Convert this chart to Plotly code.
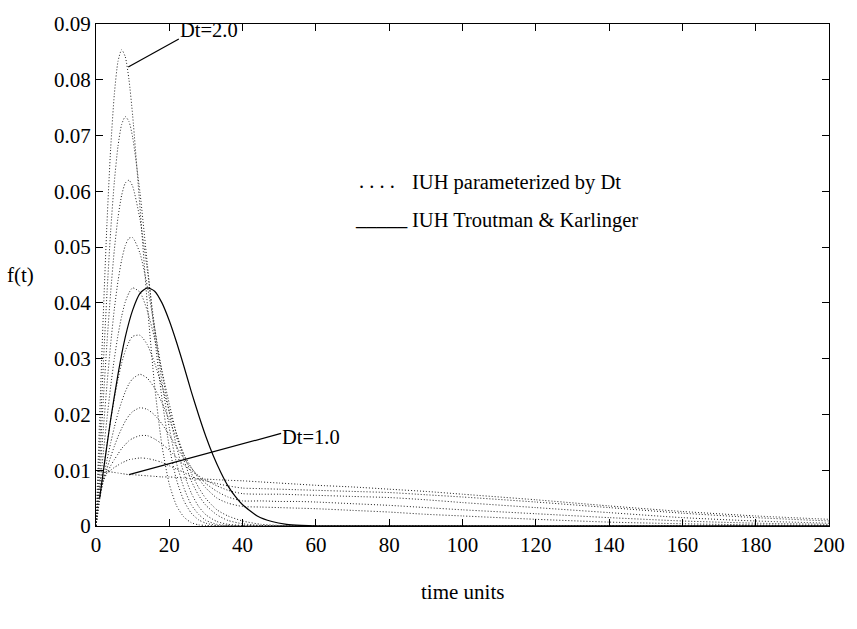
import plotly.graph_objects as go

# time grid for the Dt-parameterized IUH family
t_grid = [0, 1, 2, 3, 4, 5, 6, 7, 8, 9, 10, 12, 14, 16, 18, 20, 22, 24, 26, 28, 30,
          33, 36, 40, 45, 50, 55, 60, 70, 80, 90, 100, 120, 140, 160, 180, 200]

iuh_dt20 = [0, 0.0196, 0.0381, 0.0544, 0.0677, 0.0774, 0.0833, 0.0854, 0.0841, 0.0800, 0.0736,
            0.0571, 0.0398, 0.0251, 0.0144, 0.0075, 0.0036, 0.0016, 0.0006, 0.0002, 0.0001,
            0, 0, 0, 0, 0, 0, 0, 0, 0, 0, 0, 0, 0, 0, 0, 0]
iuh_dt19 = [0, 0.0148, 0.0290, 0.0418, 0.0529, 0.0617, 0.0681, 0.0720, 0.0734, 0.0725, 0.0697,
            0.0598, 0.0470, 0.0340, 0.0228, 0.0142, 0.0082, 0.0045, 0.0023, 0.0011, 0.0005,
            0.0001, 0, 0, 0, 0, 0, 0, 0, 0, 0, 0, 0, 0, 0, 0, 0]
iuh_dt18 = [0, 0.0116, 0.0227, 0.0329, 0.0419, 0.0495, 0.0553, 0.0593, 0.0615, 0.0620, 0.0609,
            0.0550, 0.0459, 0.0356, 0.0258, 0.0176, 0.0112, 0.0068, 0.0038, 0.0021, 0.0010,
            0.0003, 0.0001, 0, 0, 0, 0, 0, 0, 0, 0, 0, 0, 0, 0, 0, 0]
iuh_dt17 = [0, 0.0089, 0.0174, 0.0254, 0.0326, 0.0389, 0.0439, 0.0477, 0.0503, 0.0516, 0.0517,
            0.0489, 0.0430, 0.0355, 0.0276, 0.0203, 0.0142, 0.0094, 0.0059, 0.0035, 0.0020,
            0.0008, 0.0003, 0.0001, 0, 0, 0, 0, 0, 0, 0, 0, 0, 0, 0, 0, 0]
iuh_dt16 = [0, 0.0067, 0.0132, 0.0193, 0.0250, 0.0300, 0.0342, 0.0376, 0.0402, 0.0418, 0.0427,
            0.0419, 0.0386, 0.0336, 0.0278, 0.0219, 0.0164, 0.0118, 0.0081, 0.0055, 0.0037,
            0.0020, 0.0010, 0.0004, 0.0001, 0, 0, 0, 0, 0, 0, 0, 0, 0, 0, 0, 0]
iuh_dt15 = [0, 0.0050, 0.0100, 0.0147, 0.0190, 0.0229, 0.0263, 0.0292, 0.0314, 0.0330, 0.0340,
            0.0342, 0.0325, 0.0292, 0.0251, 0.0207, 0.0165, 0.0127, 0.0095, 0.0069, 0.0049,
            0.0029, 0.0018, 0.0009, 0.0003, 0.0001, 0, 0, 0, 0, 0, 0, 0, 0, 0, 0, 0]
iuh_dt14 = [0, 0.0047, 0.0084, 0.0118, 0.0149, 0.0177, 0.0202, 0.0223, 0.0241, 0.0255, 0.0264,
            0.0272, 0.0265, 0.0247, 0.0221, 0.0190, 0.0158, 0.0128, 0.0105, 0.0085, 0.0068,
            0.0050, 0.0041, 0.0035, 0.0034, 0.0033, 0.0032, 0.0031, 0.0028, 0.0025, 0.0021, 0.0018,
            0.0012, 0.0007, 0.0004, 0.0002, 0.0001]
iuh_dt13 = [0, 0.0052, 0.0080, 0.0103, 0.0124, 0.0143, 0.0160, 0.0175, 0.0188, 0.0198, 0.0205,
            0.0212, 0.0209, 0.0199, 0.0183, 0.0163, 0.0142, 0.0121, 0.0104, 0.0089, 0.0076,
            0.0062, 0.0052, 0.0045, 0.0045, 0.0044, 0.0044, 0.0043, 0.0040, 0.0037, 0.0033, 0.0029,
            0.0022, 0.0015, 0.0009, 0.0005, 0.0003]
iuh_dt12 = [0, 0.0058, 0.0081, 0.0095, 0.0108, 0.0119, 0.0129, 0.0139, 0.0146, 0.0153, 0.0157,
            0.0162, 0.0162, 0.0156, 0.0147, 0.0136, 0.0123, 0.0110, 0.0099, 0.0090, 0.0082,
            0.0072, 0.0064, 0.0058, 0.0057, 0.0057, 0.0056, 0.0055, 0.0053, 0.0051, 0.0047, 0.0042,
            0.0033, 0.0024, 0.0015, 0.0009, 0.0005]
iuh_dt11 = [0, 0.0069, 0.0087, 0.0095, 0.0100, 0.0105, 0.0109, 0.0113, 0.0116, 0.0119, 0.0120,
            0.0122, 0.0121, 0.0118, 0.0114, 0.0108, 0.0102, 0.0096, 0.0089, 0.0084, 0.0081,
            0.0076, 0.0072, 0.0068, 0.0067, 0.0066, 0.0065, 0.0064, 0.0062, 0.0060, 0.0056, 0.0052,
            0.0043, 0.0033, 0.0023, 0.0015, 0.0009]
iuh_dt10 = [0, 0.0080, 0.0096, 0.0098, 0.0097, 0.0096, 0.0095, 0.0094, 0.0093, 0.0092, 0.0092,
            0.0091, 0.0090, 0.0089, 0.0088, 0.0088, 0.0087, 0.0086, 0.0085, 0.0084, 0.0084,
            0.0083, 0.0082, 0.0081, 0.0079, 0.0077, 0.0075, 0.0073, 0.0070, 0.0066, 0.0062, 0.0057,
            0.0047, 0.0036, 0.0026, 0.0018, 0.0012]

dotted_family = [iuh_dt20, iuh_dt19, iuh_dt18, iuh_dt17, iuh_dt16, iuh_dt15,
                 iuh_dt14, iuh_dt13, iuh_dt12, iuh_dt11, iuh_dt10]

# Troutman & Karlinger IUH
t_tk = [1, 2, 4, 6, 8, 10, 12, 14, 16, 18, 20, 22, 24, 26, 28, 30, 32, 34, 36, 38, 40,
        44, 48, 52, 56, 60, 70, 80, 100, 120, 140, 160, 180, 200]
iuh_tk = [0.0050, 0.0098, 0.0191, 0.0272, 0.0339, 0.0387, 0.0417, 0.0427, 0.0421, 0.0400, 0.0368,
          0.0329, 0.0286, 0.0241, 0.0199, 0.0160, 0.0126, 0.0097, 0.0072, 0.0053, 0.0038,
          0.0018, 0.0008, 0.0003, 0.0001, 0, 0, 0, 0, 0, 0, 0, 0, 0]

x_ticks = [0, 20, 40, 60, 80, 100, 120, 140, 160, 180, 200]
y_ticks = [0, 0.01, 0.02, 0.03, 0.04, 0.05, 0.06, 0.07, 0.08, 0.09]
y_ticktext = ["0", "0.01", "0.02", "0.03", "0.04", "0.05", "0.06", "0.07", "0.08", "0.09"]

FONT = "Liberation Serif, Times New Roman, serif"
FS = 21
FS_TXT = 20.5

fig = go.Figure()
for ys in dotted_family:
    fig.add_trace(go.Scatter(x=t_grid, y=ys, mode="lines",
                             line=dict(color="#222", width=1, dash="1px,2px", shape="spline", smoothing=0.6),
                             showlegend=False, hoverinfo="skip"))
fig.add_trace(go.Scatter(x=t_tk, y=iuh_tk, mode="lines",
                         line=dict(color="black", width=1.2, shape="spline", smoothing=0.6),
                         showlegend=False, hoverinfo="skip"))

# leader lines
fig.add_shape(type="line", x0=8.8, y0=0.0823, x1=22.6, y1=0.0873, line=dict(color="black", width=1.2))
fig.add_shape(type="line", x0=9.0, y0=0.0092, x1=50.5, y1=0.0166, line=dict(color="black", width=1.2))

ann = [
    dict(x=22.5, y=0.0889, text="Dt=2.0", xanchor="left", yanchor="middle"),
    dict(x=50.2, y=0.0160, text="Dt=1.0", xanchor="left", yanchor="middle"),
    dict(x=82.2, y=0.0618, text=". . . .", xanchor="right", yanchor="middle"),
    dict(x=85.8, y=0.0615, text="IUH parameterized by Dt", xanchor="left", yanchor="middle"),
    dict(x=85.6, y=0.0552, text="_____", xanchor="right", yanchor="middle"),
    dict(x=85.8, y=0.0547, text="IUH Troutman &amp; Karlinger", xanchor="left", yanchor="middle"),
]
for a in ann:
    fig.add_annotation(xref="x", yref="y", showarrow=False,
                       font=dict(family=FONT, size=FS_TXT, color="black"), **a)

fig.add_annotation(xref="paper", yref="paper", x=0.5, y=-0.132, text="time units",
                   showarrow=False, xanchor="center", yanchor="middle",
                   font=dict(family=FONT, size=FS, color="black"))
fig.add_annotation(xref="paper", yref="paper", x=-0.103, y=0.5, text="f(t)",
                   showarrow=False, xanchor="center", yanchor="middle",
                   font=dict(family=FONT, size=FS, color="black"))

axis_common = dict(showline=True, linecolor="black", linewidth=1, mirror="ticks",
                   ticks="inside", ticklen=7, tickcolor="black", tickwidth=1,
                   showgrid=False, zeroline=False, ticklabeloverflow="allow",
                   tickfont=dict(family=FONT, size=FS, color="black"))
fig.update_xaxes(range=[0, 200], tickmode="array", tickvals=x_ticks,
                 ticktext=[str(v) for v in x_ticks], **axis_common)
fig.update_yaxes(range=[0, 0.09], tickmode="array", tickvals=y_ticks,
                 ticktext=y_ticktext, **axis_common)

fig.update_layout(width=857, height=629, margin=dict(l=96, r=14, t=14, b=103),
                  paper_bgcolor="white", plot_bgcolor="white",
                  font=dict(family=FONT, size=FS, color="black"))

fig.write_html("out.html")
